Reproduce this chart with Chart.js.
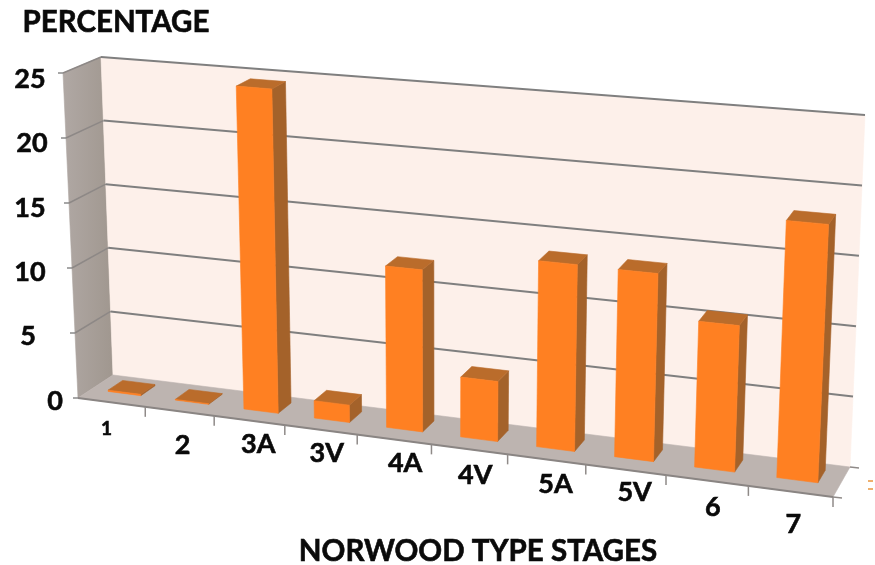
<!DOCTYPE html>
<html>
<head>
<meta charset="utf-8">
<title>Norwood type stages</title>
<script src="https://cdn.jsdelivr.net/npm/chart.js@4"></script>
<style>
  body { margin: 0; background: #fff; }
  canvas { display: block; }
</style>
</head>
<body>
<canvas id="stages" width="875" height="565"></canvas>
<script>
// values
const stages = ['1', '2', '3A', '3V', '4A', '4V', '5A', '5V', '6', '7'];
const percentages = [0.1, 0.05, 24.5, 1.3, 12, 4.4, 13.55, 13.5, 10.4, 18.15];
const yTicks = [0, 5, 10, 15, 20, 25];
const yTitle = 'PERCENTAGE';
const xTitle = 'NORWOOD TYPE STAGES';

// box corners of the 3d frame, in canvas pixels
const frontBox = { bl: [78, 398], tl: [63, 73], br: [833, 497], tr: [849, 137] };
const backBox = { bl: [113, 375], tl: [101, 57], br: [850, 467], tr: [865, 115] };
const perspective = 1.136;   // spacing gets wider towards the right
const barFront = 0.38, barBack = 0.8;   // bar depth inside the box

// hand placed label centres
const yLabelX = [55, 28, 30, 30, 32, 30];
const xLabelShift = [[-5, 12], [3, 20], [9, 10], [6, 9], [11, 10], [6, 12], [9, 11], [9, 8], [6, 13], [3, 19]];

const lerp = (a, b, k) => a + (b - a) * k;
const lerpPt = (a, b, k) => [lerp(a[0], b[0], k), lerp(a[1], b[1], k)];

// t across, v up, w into the box, all 0..1
function project(t, v, w) {
  const u = t / (t + (1 - t) * perspective);
  const front = lerpPt(lerpPt(frontBox.bl, frontBox.br, u), lerpPt(frontBox.tl, frontBox.tr, u), v);
  const back = lerpPt(lerpPt(backBox.bl, backBox.br, u), lerpPt(backBox.tl, backBox.tr, u), v);
  return lerpPt(front, back, w);
}

function poly(ctx, pts, fill) {
  ctx.beginPath();
  pts.forEach((p, i) => i ? ctx.lineTo(p[0], p[1]) : ctx.moveTo(p[0], p[1]));
  ctx.closePath();
  ctx.fillStyle = fill;
  ctx.fill();
  ctx.strokeStyle = fill;
  ctx.lineWidth = 0.6;
  ctx.stroke();
}

function line(ctx, a, b, color, width) {
  ctx.beginPath();
  ctx.moveTo(a[0], a[1]);
  ctx.lineTo(b[0], b[1]);
  ctx.strokeStyle = color;
  ctx.lineWidth = width;
  ctx.stroke();
}

function label(ctx, text, x, y, size) {
  ctx.font = 'bold ' + size + 'px Lato';
  ctx.fillStyle = '#0a0a0a';
  ctx.strokeStyle = '#0a0a0a';
  ctx.lineWidth = 0.6;
  ctx.textAlign = 'center';
  ctx.textBaseline = 'middle';
  ctx.fillText(text, x, y);
  ctx.strokeText(text, x, y);
}

const box3d = {
  id: 'box3d',
  beforeDatasetsDraw(chart) {
    const ctx = chart.ctx;
    const area = chart.chartArea;
    const xs = chart.scales.x, ys = chart.scales.y;
    const toT = px => (px - area.left) / area.width;
    const toV = py => (area.bottom - py) / area.height;

    // walls and floor
    const side = ctx.createLinearGradient(63, 0, 113, 0);
    side.addColorStop(0, '#b0a8a4');
    side.addColorStop(1, '#a0978f');
    poly(ctx, [project(0, 0, 0), project(0, 1, 0), project(0, 1, 1), project(0, 0, 1)], side);
    poly(ctx, [project(0, 0, 1), project(0, 1, 1), project(1, 1, 1), project(1, 0, 1)], '#fdf0ea');
    poly(ctx, [project(0, 0, 0), project(0, 0, 1), project(1, 0, 1), project(1, 0, 0)], '#bdb4b0');

    // gridlines run along the side wall and then the back wall
    yTicks.forEach(val => {
      const v = toV(ys.getPixelForValue(val));
      if (val > 0) {
        line(ctx, project(0, v, 0), project(0, v, 1), '#8d8886', 1.5);
        line(ctx, project(0, v, 1), project(1, v, 1), '#7f7f7f', 2);
      }
      const p = project(0, v, 0);
      line(ctx, [p[0] - 5, p[1]], p, '#8a8a8a', 1.5);
    });

    // front edge of the floor with the category ticks
    line(ctx, project(0, 0, 0), project(1, 0, 0), '#8a8583', 2.2);
    stages.forEach((s, i) => {
      const t = toT(xs.getPixelForValue(i) + xs.getPixelForValue(1) / 2 - xs.getPixelForValue(0) / 2);
      const p = project(t, 0, 0);
      line(ctx, p, [p[0], p[1] + 10], '#8f8a88', 1.5);
    });
    const c1 = project(1, 0, 1), c2 = project(1, 0, 0);
    line(ctx, c1, [c1[0] + 9, c1[1] + 1], '#8f8a88', 1.5);
    line(ctx, c2, [c2[0] + 9, c2[1] + 1], '#8f8a88', 1.5);
    line(ctx, [868, 481], [873, 481], '#e8953c', 1.5);
    line(ctx, [868, 489], [873, 489], '#e8953c', 1.5);

    // bars come from the chart's own bar elements
    chart.getDatasetMeta(0).data.forEach(el => {
      const t0 = toT(el.x - el.width / 2), t1 = toT(el.x + el.width / 2);
      const v1 = toV(el.y);
      poly(ctx, [project(t1, 0, barFront), project(t1, v1, barFront), project(t1, v1, barBack), project(t1, 0, barBack)], '#a4622a');
      poly(ctx, [project(t0, v1, barFront), project(t0, v1, barBack), project(t1, v1, barBack), project(t1, v1, barFront)], '#ba6c2b');
      poly(ctx, [project(t0, 0, barFront), project(t0, v1, barFront), project(t1, v1, barFront), project(t1, 0, barFront)], '#ff8022');
    });

    // text
    label(ctx, yTitle, 116, 22, 29.5);
    label(ctx, xTitle, 478, 551, 29.5);
    yTicks.forEach((val, i) => label(ctx, String(val), yLabelX[i], ys.getPixelForValue(val) + 1, 27));
    stages.forEach((s, i) => {
      const p = project(toT(xs.getPixelForValue(i)), 0, 0);
      label(ctx, s, p[0] + xLabelShift[i][0], p[1] + xLabelShift[i][1] + 14, s === '1' ? 19 : 27);
    });

    return false;
  }
};

new Chart(document.getElementById('stages'), {
  type: 'bar',
  data: {
    labels: stages,
    datasets: [{ data: percentages, backgroundColor: '#ff8022', barPercentage: 0.49, categoryPercentage: 1 }]
  },
  options: {
    responsive: false,
    animation: false,
    layout: { padding: { left: 78, right: 42, top: 78, bottom: 165 } },
    plugins: { legend: { display: false }, title: { display: false }, tooltip: { enabled: false } },
    scales: {
      x: { display: false },
      y: { display: false, min: 0, max: 25, ticks: { stepSize: 5 } }
    }
  },
  plugins: [box3d]
});
</script>
</body>
</html>
